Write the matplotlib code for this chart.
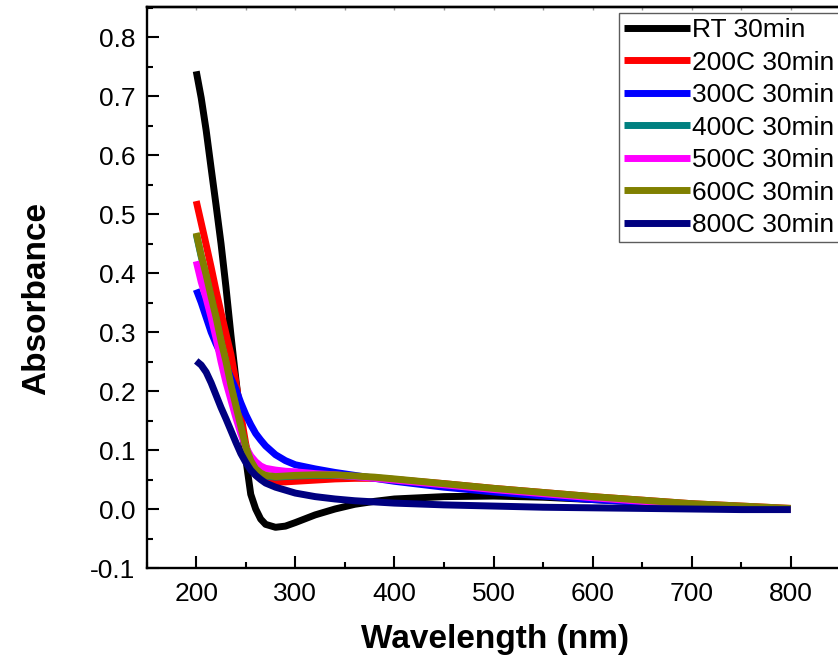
import matplotlib
matplotlib.use("Agg")
import matplotlib.pyplot as plt
from matplotlib.ticker import MultipleLocator

plt.rcParams['font.family'] = ['Liberation Sans', 'DejaVu Sans']

# wavelength grid (nm)
wavelength = [200, 205, 210, 215, 220, 225, 230, 235, 240, 245, 250, 255, 260, 265, 270,
              280, 290, 300, 320, 340, 360, 380, 400, 450, 500, 550, 600, 650, 700, 750, 800]

rt_30 = [0.742, 0.697, 0.642, 0.578, 0.515, 0.450, 0.376, 0.295, 0.220, 0.150, 0.085, 0.025,
         0.000, -0.017, -0.026, -0.031, -0.029, -0.023, -0.010, 0.000, 0.008, 0.013, 0.017,
         0.021, 0.022, 0.020, 0.016, 0.012, 0.008, 0.004, 0.000]
c200_30 = [0.522, 0.485, 0.448, 0.410, 0.370, 0.333, 0.297, 0.262, 0.215, 0.160, 0.110, 0.075,
           0.058, 0.051, 0.048, 0.046, 0.046, 0.047, 0.049, 0.051, 0.052, 0.052, 0.050,
           0.043, 0.035, 0.028, 0.021, 0.015, 0.009, 0.005, 0.001]
c300_30 = [0.372, 0.350, 0.325, 0.300, 0.280, 0.262, 0.243, 0.222, 0.203, 0.180, 0.160, 0.143,
           0.128, 0.117, 0.107, 0.092, 0.082, 0.075, 0.068, 0.062, 0.057, 0.052, 0.047,
           0.037, 0.029, 0.022, 0.016, 0.011, 0.007, 0.003, 0.000]
c400_30 = [0.466, 0.428, 0.395, 0.358, 0.323, 0.284, 0.249, 0.209, 0.174, 0.139, 0.104, 0.081,
           0.067, 0.060, 0.056, 0.054, 0.055, 0.056, 0.057, 0.057, 0.055, 0.053, 0.050,
           0.042, 0.034, 0.027, 0.020, 0.014, 0.008, 0.004, 0.000]
c500_30 = [0.420, 0.385, 0.357, 0.325, 0.290, 0.250, 0.215, 0.185, 0.155, 0.128, 0.105, 0.090,
           0.080, 0.073, 0.069, 0.066, 0.064, 0.063, 0.060, 0.058, 0.055, 0.052, 0.049,
           0.041, 0.033, 0.026, 0.019, 0.013, 0.008, 0.004, 0.000]
c600_30 = [0.468, 0.430, 0.397, 0.360, 0.325, 0.285, 0.250, 0.210, 0.175, 0.140, 0.105, 0.082,
           0.068, 0.061, 0.057, 0.055, 0.056, 0.057, 0.058, 0.058, 0.056, 0.054, 0.051,
           0.043, 0.035, 0.028, 0.021, 0.015, 0.009, 0.005, 0.001]
c800_30 = [0.251, 0.244, 0.232, 0.214, 0.193, 0.172, 0.153, 0.133, 0.113, 0.094, 0.079, 0.066,
           0.057, 0.050, 0.044, 0.037, 0.032, 0.027, 0.021, 0.017, 0.014, 0.012, 0.010,
           0.007, 0.005, 0.003, 0.002, 0.001, 0.000, -0.001, -0.001]

labels = ['RT 30min', '200C 30min', '300C 30min', '400C 30min',
          '500C 30min', '600C 30min', '800C 30min']
series = [rt_30, c200_30, c300_30, c400_30, c500_30, c600_30, c800_30]
colors = ['#000000', '#FF0000', '#0000FF', '#008080', '#FF00FF', '#808000', '#000080']

fig = plt.figure(figsize=(8.38, 6.63), dpi=100)
ax = fig.add_axes([146.7 / 838, (663 - 568) / 663, (840.3 - 146.7) / 838, (568 - 7) / 663])

for vals, lab, col in zip(series, labels, colors):
    ax.plot(wavelength, vals, color=col, lw=5, label=lab, solid_capstyle='butt',
            solid_joinstyle='round')

ax.set_xlim(150, 850)
ax.set_ylim(-0.1, 0.851)
ax.xaxis.set_major_locator(MultipleLocator(100))
ax.xaxis.set_minor_locator(MultipleLocator(50))
ax.yaxis.set_major_locator(MultipleLocator(0.1))
ax.yaxis.set_minor_locator(MultipleLocator(0.05))
ax.yaxis.set_major_formatter(plt.FuncFormatter(lambda v, p: f"{v:.1f}"))

for s in ax.spines.values():
    s.set_linewidth(1.7)
ax.tick_params(which='major', direction='in', length=8.5, width=1.5, labelsize=19, pad=8)
ax.tick_params(axis='x', which='major', pad=10)
ax.tick_params(which='minor', direction='in', length=4, width=1.5)

top = ax.secondary_xaxis('top')
top.xaxis.set_major_locator(MultipleLocator(50))
top.tick_params(direction='in', length=2, width=1, colors='#999999')
top.set_xticklabels([])
top.spines['top'].set_linewidth(1.7)

ax.set_xlabel('Wavelength (nm)', fontsize=24, fontweight='bold')
ax.set_ylabel('Absorbance', fontsize=24, fontweight='bold')
ax.xaxis.set_label_coords(0.502, -0.1)
ax.yaxis.set_label_coords(-0.137, 0.481)

leg = ax.legend(loc='upper left', bbox_to_anchor=(619 / 838, 1 - 241 / 663, 240 / 838, 228 / 663),
                bbox_transform=fig.transFigure, mode='expand', fontsize=19, frameon=True,
                fancybox=False, handlelength=2.5, handletextpad=0.08, borderpad=0.2,
                borderaxespad=0, labelspacing=0.32)
leg.get_frame().set_edgecolor('#333333')
leg.get_frame().set_linewidth(1.0)

fig.savefig('out.png', dpi=100)
